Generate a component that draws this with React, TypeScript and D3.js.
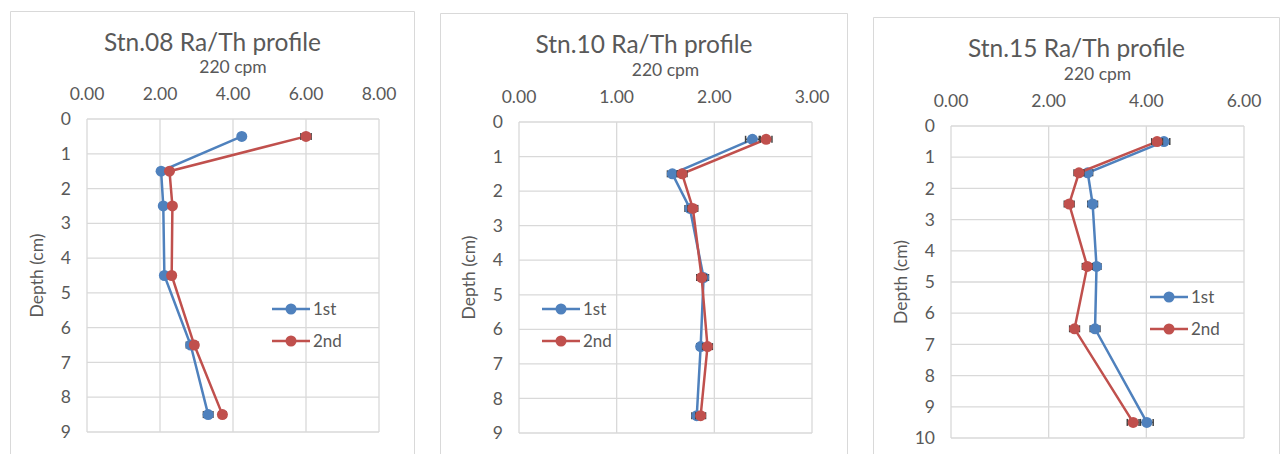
import React from "react";
import * as d3 from "d3";

// sample depths (cm)
const depths08 = [0.5, 1.5, 2.5, 4.5, 6.5, 8.5];
const depths10 = [0.5, 1.5, 2.5, 4.5, 6.5, 8.5];
const depths15 = [0.5, 1.5, 2.5, 4.5, 6.5, 9.5];

// Ra/Th ratio values, 1st and 2nd count
const first08 = [4.24, 2.03, 2.09, 2.12, 2.84, 3.32];
const second08 = [6.0, 2.26, 2.34, 2.32, 2.94, 3.71];
const firstErr08 = [0.06, 0.05, 0.05, 0.06, 0.12, 0.13];
const secondErr08 = [0.14, 0.06, 0.06, 0.06, 0.1, 0.1];

const first10 = [2.39, 1.57, 1.75, 1.89, 1.86, 1.82];
const second10 = [2.53, 1.67, 1.78, 1.87, 1.93, 1.86];
const firstErr10 = [0.07, 0.05, 0.05, 0.05, 0.04, 0.05];
const secondErr10 = [0.06, 0.05, 0.05, 0.05, 0.05, 0.05];

const first15 = [4.36, 2.8, 2.9, 2.98, 2.95, 4.01];
const second15 = [4.22, 2.62, 2.42, 2.79, 2.53, 3.73];
const firstErr15 = [0.12, 0.1, 0.1, 0.09, 0.1, 0.13];
const secondErr15 = [0.11, 0.1, 0.1, 0.1, 0.1, 0.12];

const xTicks08 = [0, 2, 4, 6, 8];
const xTicks10 = [0, 1, 2, 3];
const xTicks15 = [0, 2, 4, 6];
const yTicks9 = [0, 1, 2, 3, 4, 5, 6, 7, 8, 9];
const yTicks10 = [0, 1, 2, 3, 4, 5, 6, 7, 8, 9, 10];

const seriesNames = ["1st", "2nd"];
const colors = ["#4F81BD", "#C0504D"];
const textColor = "#595959";
const gridColor = "#d9d9d9";
const font = "Lato, 'Open Sans', sans-serif";

type Panel = {
  title: string;
  box: [number, number];
  boxTop: number;
  plot: { left: number; right: number; top: number; bottom: number };
  xMax: number;
  xTicks: number[];
  yMax: number;
  yTicks: number[];
  depths: number[];
  series: { values: number[]; errs: number[] }[];
  legend: { x: number; y: number };
};

const panels: Panel[] = [
  {
    title: "Stn.08 Ra/Th profile",
    box: [10, 415],
    boxTop: 11,
    plot: { left: 87, right: 379, top: 119, bottom: 432 },
    xMax: 8,
    xTicks: xTicks08,
    yMax: 9,
    yTicks: yTicks9,
    depths: depths08,
    series: [
      { values: first08, errs: firstErr08 },
      { values: second08, errs: secondErr08 },
    ],
    legend: { x: 272, y: 309 },
  },
  {
    title: "Stn.10 Ra/Th profile",
    box: [440, 848],
    boxTop: 13,
    plot: { left: 519, right: 812, top: 122, bottom: 433 },
    xMax: 3,
    xTicks: xTicks10,
    yMax: 9,
    yTicks: yTicks9,
    depths: depths10,
    series: [
      { values: first10, errs: firstErr10 },
      { values: second10, errs: secondErr10 },
    ],
    legend: { x: 542, y: 309 },
  },
  {
    title: "Stn.15 Ra/Th profile",
    box: [873, 1280],
    boxTop: 17,
    plot: { left: 951, right: 1244, top: 126, bottom: 438 },
    xMax: 6,
    xTicks: xTicks15,
    yMax: 10,
    yTicks: yTicks10,
    depths: depths15,
    series: [
      { values: first15, errs: firstErr15 },
      { values: second15, errs: secondErr15 },
    ],
    legend: { x: 1150, y: 297 },
  },
];

function ProfileChart({ p }: { p: Panel }) {
  const x = d3.scaleLinear().domain([0, p.xMax]).range([p.plot.left, p.plot.right]);
  const y = d3.scaleLinear().domain([0, p.yMax]).range([p.plot.top, p.plot.bottom]);
  const cx = (p.box[0] + p.box[1]) / 2;
  const px = (p.plot.left + p.plot.right) / 2;
  const py = (p.plot.top + p.plot.bottom) / 2;

  return (
    <g fontFamily={font} fill={textColor}>
      <path
        d={`M${p.box[0] + 0.5},460 V${p.boxTop + 0.5} H${p.box[1] - 0.5} V460`}
        fill="white"
        stroke={gridColor}
        strokeWidth={1}
      />
      <text x={cx} y={p.boxTop + 40} textAnchor="middle" fontSize={24.5}>
        {p.title}
      </text>
      <text x={px} y={p.plot.top - 46} textAnchor="middle" fontSize={17.5}>
        220 cpm
      </text>
      {p.xTicks.map((t) => (
        <g key={"x" + t}>
          <line
            x1={x(t)}
            x2={x(t)}
            y1={p.plot.top}
            y2={p.plot.bottom}
            stroke={gridColor}
            strokeWidth={1.3}
          />
          <text x={x(t)} y={p.plot.top - 19} textAnchor="middle" fontSize={17.5}>
            {t.toFixed(2)}
          </text>
        </g>
      ))}
      {p.yTicks.map((t) => (
        <g key={"y" + t}>
          <line
            x1={p.plot.left}
            x2={p.plot.right}
            y1={y(t)}
            y2={y(t)}
            stroke={gridColor}
            strokeWidth={1.3}
          />
          <text
            x={p.plot.left - 16}
            y={y(t)}
            dy="0.35em"
            textAnchor="end"
            fontSize={17.5}
          >
            {t}
          </text>
        </g>
      ))}
      <text
        transform={`translate(${p.plot.left - 44},${py}) rotate(-90)`}
        textAnchor="middle"
        fontSize={17.5}
      >
        Depth (cm)
      </text>
      {p.series.map((s, i) => {
        const pts = p.depths.map((d, j) => [x(s.values[j]), y(d)] as [number, number]);
        const line = d3.line();
        return (
          <g key={"s" + i}>
            <path d={line(pts) || ""} fill="none" stroke={colors[i]} strokeWidth={2.5} />
            {p.depths.map((d, j) => {
              const x0 = x(s.values[j] - s.errs[j]);
              const x1 = x(s.values[j] + s.errs[j]);
              const yy = y(d);
              return (
                <g key={"e" + j} stroke="#404040" strokeWidth={1.5}>
                  <line x1={x0} x2={x1} y1={yy} y2={yy} />
                  <line x1={x0} x2={x0} y1={yy - 3.5} y2={yy + 3.5} />
                  <line x1={x1} x2={x1} y1={yy - 3.5} y2={yy + 3.5} />
                </g>
              );
            })}
            {pts.map((pt, j) => (
              <circle key={"c" + j} cx={pt[0]} cy={pt[1]} r={5.5} fill={colors[i]} />
            ))}
          </g>
        );
      })}
      {seriesNames.map((name, i) => {
        const ly = p.legend.y + i * 32;
        return (
          <g key={"l" + i}>
            <line
              x1={p.legend.x}
              x2={p.legend.x + 38}
              y1={ly}
              y2={ly}
              stroke={colors[i]}
              strokeWidth={2.5}
            />
            <circle cx={p.legend.x + 19} cy={ly} r={5.5} fill={colors[i]} />
            <text x={p.legend.x + 41} y={ly} dy="0.35em" fontSize={17}>
              {name}
            </text>
          </g>
        );
      })}
    </g>
  );
}

export default function App() {
  return (
    <svg
      width={1281}
      height={454}
      style={{ position: "absolute", left: 0, top: 0, background: "white" }}
    >
      {panels.map((p) => (
        <ProfileChart key={p.title} p={p} />
      ))}
    </svg>
  );
}
